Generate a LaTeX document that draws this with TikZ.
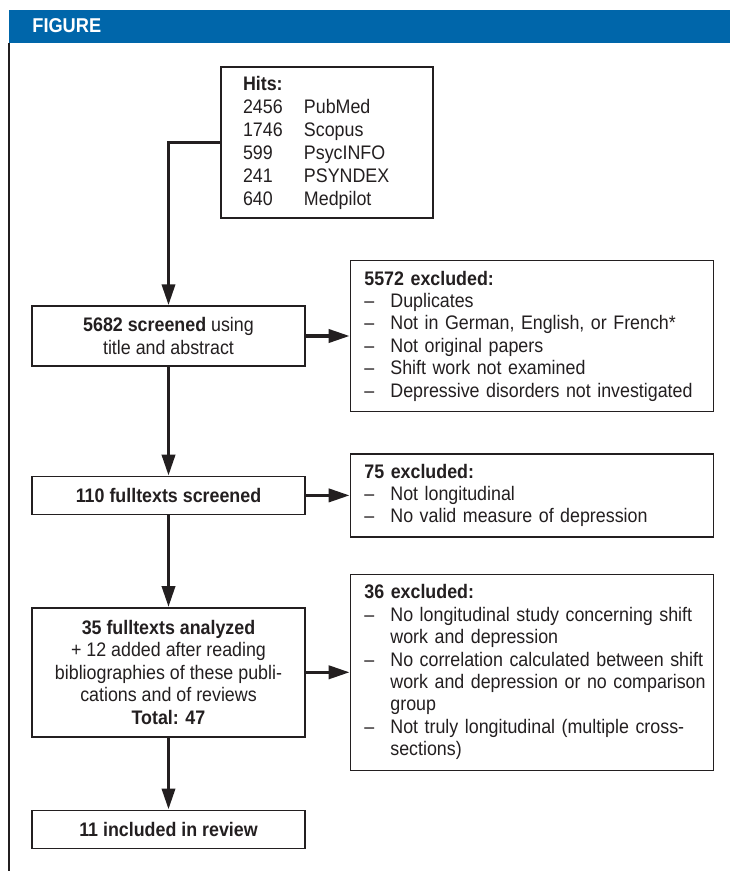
\documentclass[tikz,border=0pt]{standalone}
\usepackage{fontspec}
\setmainfont{Liberation Sans}[FakeStretch=0.91]
\usetikzlibrary{arrows.meta, positioning}
\definecolor{headblue}{RGB}{0,102,170}
\definecolor{inkgray}{RGB}{35,31,32}
\newcommand{\excl}[1]{\makebox[13pt][l]{--}\mbox{#1}}
\newcommand{\cont}[1]{\hspace*{13pt}\mbox{#1}}
\newcommand{\hit}[2]{\makebox[30.5pt][l]{#1}#2}

\begin{document}
\begin{tikzpicture}[
  x=1pt, y=1pt,
  box/.style={rectangle, draw=inkgray, line width=0.7pt, text=inkgray,
              font=\fontsize{9.8pt}{11.2pt}\selectfont, inner sep=0pt},
  mainbox/.style={box, minimum width=136.5pt, align=center},
  exclbox/.style={box, text width=167.5pt, inner xsep=7pt, align=left},
  hitbox/.style={box, text width=84pt, inner xsep=11pt, align=left,
                 font=\fontsize{9.8pt}{11.5pt}\selectfont},
  arrow/.style={-{Triangle[length=10.5pt, width=6.5pt]}, line width=1.8pt, draw=inkgray},
]
\useasboundingbox (0,0) rectangle (365,-435.5);
\fill[white] (0,0) rectangle (365,-435.5);

% Header
\fill[headblue] (4.5,-5) rectangle (365,-21.5);
\node[anchor=west, inner sep=0pt, text=white,
      font=\bfseries\fontsize{10pt}{11pt}\selectfont] (figlabel) at (16,-13) {FIGURE};
\draw[inkgray, line width=1pt] (4.5,-21.5) -- (4.5,-435.5);

% Main column
\node[hitbox, minimum height=75.5pt] (hits) at (163.5,-71.25) {\textbf{Hits:}\\
  \hit{2456}{PubMed}\\ \hit{1746}{Scopus}\\ \hit{599}{PsycINFO}\\
  \hit{241}{PSYNDEX}\\ \hit{640}{Medpilot}};
\node[mainbox, minimum height=30pt] (screened) at (84.25,-168)
  {\textbf{5682 screened} using\\title and abstract};
\node[mainbox, minimum height=19pt, below=54.5pt of screened] (fulltexts)
  {\textbf{110 fulltexts screened}};
\node[mainbox, minimum height=64.5pt, below=46pt of fulltexts] (analyzed)
  {\textbf{35 fulltexts analyzed}\\+ 12 added after reading\\bibliographies of these publi-\\cations and of reviews\\\textbf{Total: 47}};
\node[mainbox, minimum height=19pt, below=36pt of analyzed] (included)
  {\textbf{11 included in review}};

% Exclusions
\node[exclbox, minimum height=75.5pt, right=22pt of screened] (excl1)
  {\textbf{5572 excluded:}\\\excl{Duplicates}\\\excl{Not in German, English, or French*}\\
   \excl{Not original papers}\\\excl{Shift work not examined}\\\excl{Depressive disorders not investigated}};
\node[exclbox, minimum height=41.5pt, right=22pt of fulltexts] (excl2)
  {\textbf{75 excluded:}\\\excl{Not longitudinal}\\\excl{No valid measure of depression}};
\node[exclbox, minimum height=98pt, right=22pt of analyzed] (excl3)
  {\textbf{36 excluded:}\\\excl{No longitudinal study concerning shift}\\\cont{work and depression}\\
   \excl{No correlation calculated between shift}\\\cont{work and depression or no comparison}\\\cont{group}\\
   \excl{Not truly longitudinal (multiple cross-}\\\cont{sections)}};

% Arrows
\draw[arrow] (hits.west) -| (screened.north);
\draw[arrow] (screened) -- (fulltexts);
\draw[arrow] (fulltexts) -- (analyzed);
\draw[arrow] (analyzed) -- (included);
\draw[arrow] (screened) -- (excl1);
\draw[arrow] (fulltexts) -- (excl2);
\draw[arrow] (analyzed) -- (excl3);

\end{tikzpicture}
\end{document}
